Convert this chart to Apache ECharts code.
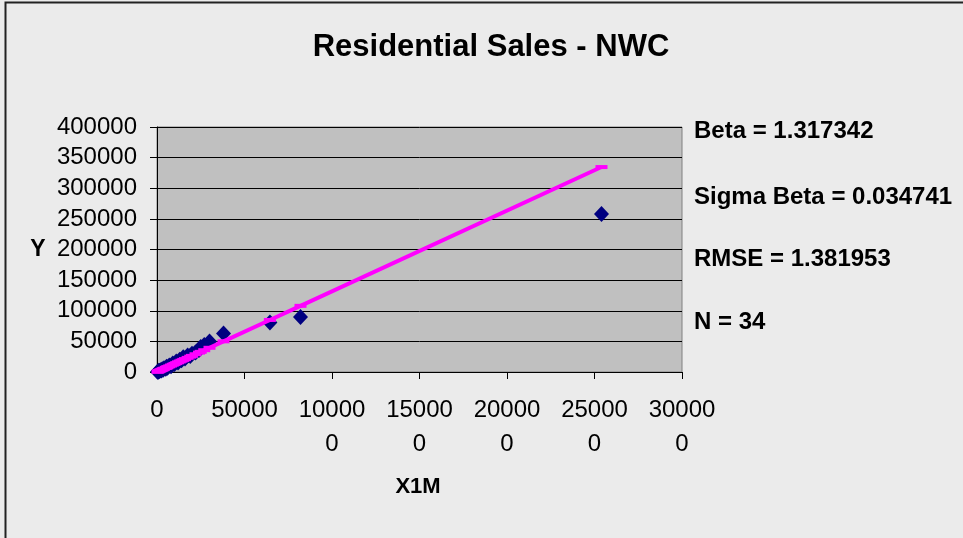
<!DOCTYPE html>
<html>
<head>
<meta charset="utf-8">
<script src="https://cdn.jsdelivr.net/npm/echarts@6/dist/echarts.min.js"></script>
<style>
html,body{margin:0;padding:0;background:#ebebeb;}
#chart{width:963px;height:538px;}
</style>
</head>
<body>
<div id="chart"></div>
<script>
const titleText = 'Residential Sales - NWC';
const xName = 'X1M';
const yName = 'Y';
const statLabels = ['Beta = 1.317342', 'Sigma Beta = 0.034741', 'RMSE = 1.381953', 'N = 34'];

const xValues = [254000, 82000, 64500, 38000, 30000, 27000, 25000, 24000, 22000, 20000,
  19000, 17500, 16000, 15000, 14000, 13000, 12000, 11000, 10000, 9000,
  8000, 7000, 6000, 5500, 5000, 4000, 3500, 3000, 2500, 2000, 1500, 1000, 700, 300];
const yValues = [258000, 90000, 81000, 63000, 50000, 44000, 41000, 36000, 32000, 30000,
  26000, 27000, 22000, 24000, 19000, 20000, 15500, 17000, 13000, 14000,
  9500, 10500, 7000, 8500, 5500, 6000, 3500, 4500, 2500, 3000, 1500, 2000, 600, 400];
const fittedValues = [334605, 108022, 84969, 50059, 39520, 35568, 32934, 31616, 28982, 26347,
  25030, 23053, 21077, 19760, 18443, 17125, 15808, 14491, 13173, 11856,
  10539, 9221, 7904, 7245, 6587, 5269, 4611, 3952, 3293, 2635, 1976, 1317, 922, 395];

const scatterData = xValues.map((x, i) => [x, yValues[i]]);
const lineData = xValues.map((x, i) => [x, fittedValues[i]]).sort((a, b) => a[0] - b[0]);

const chart = echarts.init(document.getElementById('chart'));
const font = 'Arial, "Liberation Sans", sans-serif';
const statY = [131, 197, 259, 322];

chart.setOption({
  backgroundColor: '#ebebeb',
  animation: false,
  title: {
    text: titleText,
    left: 486, top: 27, textAlign: 'center',
    textStyle: { fontFamily: font, fontSize: 31, fontWeight: 'bold', color: '#000' }
  },
  grid: {
    left: 157, right: 281, top: 127, bottom: 166,
    show: true, backgroundColor: '#c0c0c0', borderColor: '#808080', borderWidth: 1
  },
  xAxis: {
    type: 'value', min: 0, max: 300000, interval: 50000,
    axisLine: { show: true, lineStyle: { color: '#000', width: 1 } },
    axisTick: { show: true, length: 7, lineStyle: { color: '#000' } },
    splitLine: { show: false },
    axisLabel: {
      color: '#000', fontFamily: font, fontSize: 24, margin: 21, lineHeight: 34,
      formatter: v => { const s = String(v); return s.length > 5 ? s.slice(0, 5) + '\n' + s.slice(5) : s; }
    }
  },
  yAxis: {
    type: 'value', min: 0, max: 400000, interval: 50000,
    axisLine: { show: true, lineStyle: { color: '#000', width: 1 } },
    axisTick: { show: true, length: 7, lineStyle: { color: '#000' } },
    splitLine: { show: true, lineStyle: { color: '#000', width: 1 } },
    axisLabel: { color: '#000', fontFamily: font, fontSize: 24, margin: 20, formatter: v => String(v) }
  },
  graphic: [
    { type: 'rect', left: 3, top: 0, shape: { width: 1000, height: 600 }, style: { fill: 'none', stroke: '#222', lineWidth: 2 }, silent: true },
    { type: 'text', x: 38, y: 250, style: { text: yName, font: 'bold 23px ' + font, fill: '#000', align: 'center', verticalAlign: 'middle' } },
    { type: 'text', x: 418, y: 487, style: { text: xName, font: 'bold 22px ' + font, fill: '#000', align: 'center', verticalAlign: 'middle' } }
  ].concat(statLabels.map((t, i) => ({
    type: 'text', x: 694, y: statY[i],
    style: { text: t, font: 'bold 24px ' + font, fill: '#000', align: 'left', verticalAlign: 'middle' }
  }))),
  series: [
    {
      type: 'scatter', data: scatterData, symbol: 'diamond', symbolSize: [15, 16],
      itemStyle: { color: '#000080', opacity: 1 }, z: 2
    },
    {
      type: 'line', data: lineData, symbol: 'rect', symbolSize: [12, 4], showSymbol: true,
      lineStyle: { color: '#ff00ff', width: 4 }, itemStyle: { color: '#ff00ff', opacity: 1 }, z: 3
    }
  ]
});
</script>
</body>
</html>
